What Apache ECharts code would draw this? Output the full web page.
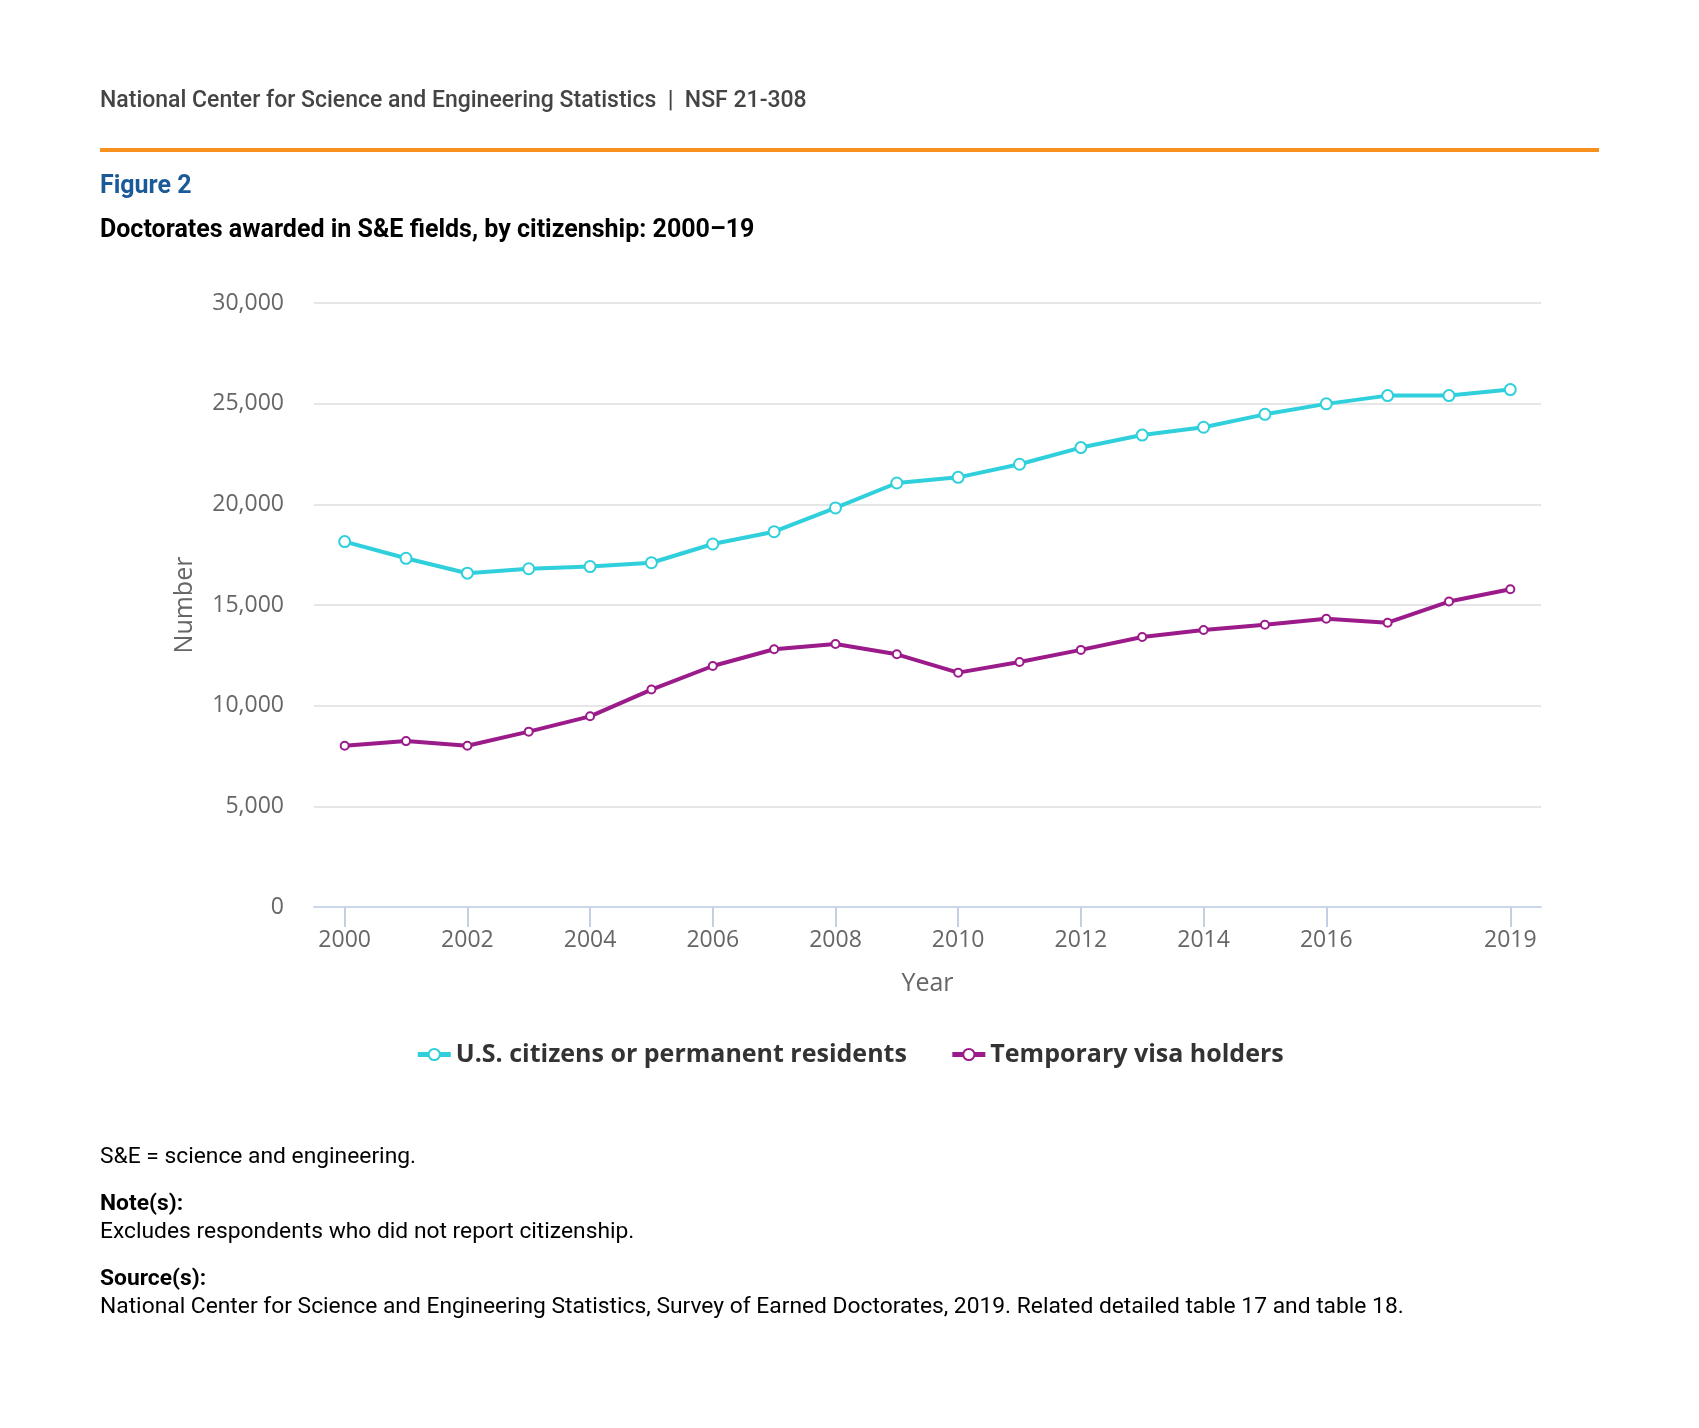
<!DOCTYPE html>
<html>
<head>
<meta charset="utf-8">
<script src="https://cdn.jsdelivr.net/npm/echarts@6/dist/echarts.min.js"></script>
<style>
html,body{margin:0;padding:0;background:#fff;}
#c{width:1699px;height:1428px;}
</style>
</head>
<body>
<div id="c"></div>
<script>
const years = ['2000','2001','2002','2003','2004','2005','2006','2007','2008','2009','2010','2011','2012','2013','2014','2015','2016','2017','2018','2019'];
const usCitizens = [18150,17320,16580,16800,16910,17100,18030,18640,19820,21060,21340,21990,22820,23440,23830,24470,24990,25400,25400,25700];
const tempVisa = [8010,8240,8010,8710,9470,10800,11970,12800,13060,12550,11640,12170,12770,13410,13760,14020,14320,14120,15170,15780];
const shownYearIdx = [0,2,4,6,8,10,12,14,16,19];
const yTicks = {min:0, max:30000, interval:5000};

const chart = echarts.init(document.getElementById('c'));
const showFn = (idx) => shownYearIdx.indexOf(idx) >= 0;
const txt = (text, x, y, font, fill) => ({type:'text', x:x, y:y, style:{text:text, font:font, fill:fill, verticalAlign:'middle', align:'left'}});

chart.setOption({
  animation:false,
  backgroundColor:'#fff',
  graphic:[
    txt('National Center for Science and Engineering Statistics  |  NSF 21-308', 100, 101, '500 23px Roboto', '#444'),
    {type:'line', shape:{x1:100,y1:150,x2:1599,y2:150}, style:{stroke:'#f7901e', lineWidth:4}},
    txt('Figure 2', 100, 187, 'bold 25px Roboto', '#1b5a99'),
    txt('Doctorates awarded in S&E fields, by citizenship: 2000\u201319', 100, 231, 'bold 25px Roboto', '#000'),
    txt('S&E = science and engineering.', 100, 1157, '22.8px Roboto', '#000'),
    txt('Note(s):', 100, 1204, 'bold 22.8px Roboto', '#000'),
    txt('Excludes respondents who did not report citizenship.', 100, 1232, '22.8px Roboto', '#000'),
    txt('Source(s):', 100, 1279, 'bold 22.8px Roboto', '#000'),
    txt('National Center for Science and Engineering Statistics, Survey of Earned Doctorates, 2019. Related detailed table 17 and table 18.', 100, 1307, '22.8px Roboto', '#000')
  ],
  grid:{left:314, right:158, top:303, height:604, containLabel:false},
  legend:{
    top:1037, left:'center', itemGap:43, itemWidth:33, itemHeight:14,
    lineStyle:{width:5},
    textStyle:{fontFamily:'Open Sans', fontWeight:'bold', fontSize:25, color:'#333'},
    data:['U.S. citizens or permanent residents','Temporary visa holders']
  },
  xAxis:{
    type:'category', data:years, boundaryGap:true,
    name:'Year', nameLocation:'middle', nameGap:64,
    nameTextStyle:{fontFamily:'Open Sans', fontSize:25, color:'#666'},
    axisLine:{lineStyle:{color:'#ccd6eb', width:2}},
    axisTick:{show:true, alignWithLabel:true, length:20, interval:showFn, lineStyle:{color:'#c4cfe6', width:2}},
    axisLabel:{interval:showFn, fontFamily:'Open Sans', fontSize:23, color:'#666', margin:22},
    splitLine:{show:false}
  },
  yAxis:{
    type:'value', min:yTicks.min, max:yTicks.max, interval:yTicks.interval,
    name:'Number', nameLocation:'middle', nameGap:117,
    nameTextStyle:{fontFamily:'Open Sans', fontSize:25, color:'#666'},
    axisLine:{show:false}, axisTick:{show:false},
    axisLabel:{fontFamily:'Open Sans', fontSize:23, color:'#666', margin:30,
      formatter:(v)=>v.toLocaleString('en-US')},
    splitLine:{lineStyle:{color:'#e6e6e6', width:2}}
  },
  series:[
    {name:'U.S. citizens or permanent residents', type:'line', data:usCitizens,
     symbol:'emptyCircle', symbolSize:11, color:'#2fd0dc',
     lineStyle:{width:4, color:'#2fd0dc'},
     itemStyle:{color:'#2fd0dc', borderColor:'#2fd0dc', borderWidth:4}},
    {name:'Temporary visa holders', type:'line', data:tempVisa,
     symbol:'emptyCircle', symbolSize:8, color:'#9b1b8a',
     lineStyle:{width:4, color:'#9b1b8a'},
     itemStyle:{color:'#9b1b8a', borderColor:'#9b1b8a', borderWidth:3.5}}
  ]
});
</script>
</body>
</html>
